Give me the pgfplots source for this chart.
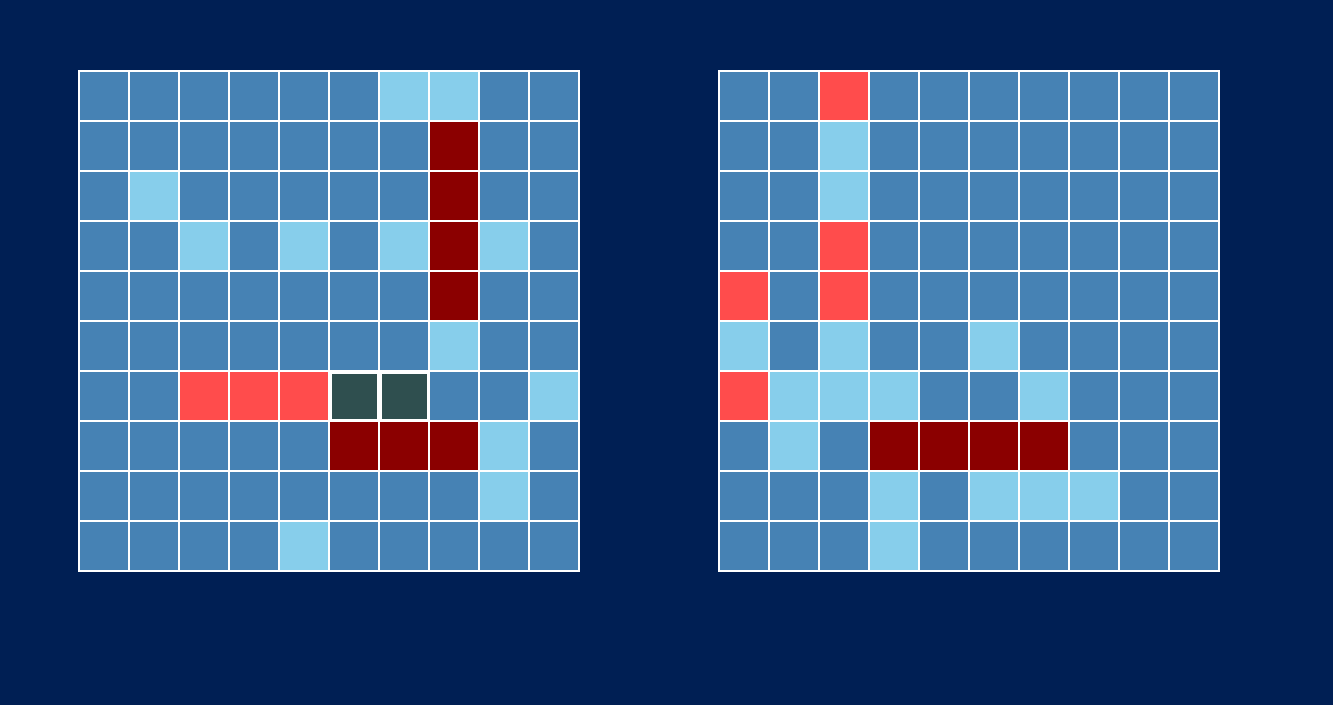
\documentclass[border=0pt]{standalone}
\usepackage{pgfplots}
\usepackage{pgfplotstable}
\pgfplotsset{compat=1.18}
\definecolor{bgnavy}{RGB}{0,31,84}
\definecolor{slatecell}{RGB}{47,79,79}
% meta: 0 steelblue (unknown), 1 skyblue (miss), 2 darkred (sunk), 3 light red (hit), 4 darkslategray
\pgfplotstableread{
x y c
0 0 0
1 0 0
2 0 0
3 0 0
4 0 0
5 0 0
6 0 1
7 0 1
8 0 0
9 0 0
0 1 0
1 1 0
2 1 0
3 1 0
4 1 0
5 1 0
6 1 0
7 1 2
8 1 0
9 1 0
0 2 0
1 2 1
2 2 0
3 2 0
4 2 0
5 2 0
6 2 0
7 2 2
8 2 0
9 2 0
0 3 0
1 3 0
2 3 1
3 3 0
4 3 1
5 3 0
6 3 1
7 3 2
8 3 1
9 3 0
0 4 0
1 4 0
2 4 0
3 4 0
4 4 0
5 4 0
6 4 0
7 4 2
8 4 0
9 4 0
0 5 0
1 5 0
2 5 0
3 5 0
4 5 0
5 5 0
6 5 0
7 5 1
8 5 0
9 5 0
0 6 0
1 6 0
2 6 3
3 6 3
4 6 3
5 6 4
6 6 4
7 6 0
8 6 0
9 6 1
0 7 0
1 7 0
2 7 0
3 7 0
4 7 0
5 7 2
6 7 2
7 7 2
8 7 1
9 7 0
0 8 0
1 8 0
2 8 0
3 8 0
4 8 0
5 8 0
6 8 0
7 8 0
8 8 1
9 8 0
0 9 0
1 9 0
2 9 0
3 9 0
4 9 1
5 9 0
6 9 0
7 9 0
8 9 0
9 9 0
}\leftgrid
\pgfplotstableread{
x y
5 6
6 6
}\leftfocus
\pgfplotstableread{
x y c
0 0 0
1 0 0
2 0 3
3 0 0
4 0 0
5 0 0
6 0 0
7 0 0
8 0 0
9 0 0
0 1 0
1 1 0
2 1 1
3 1 0
4 1 0
5 1 0
6 1 0
7 1 0
8 1 0
9 1 0
0 2 0
1 2 0
2 2 1
3 2 0
4 2 0
5 2 0
6 2 0
7 2 0
8 2 0
9 2 0
0 3 0
1 3 0
2 3 3
3 3 0
4 3 0
5 3 0
6 3 0
7 3 0
8 3 0
9 3 0
0 4 3
1 4 0
2 4 3
3 4 0
4 4 0
5 4 0
6 4 0
7 4 0
8 4 0
9 4 0
0 5 1
1 5 0
2 5 1
3 5 0
4 5 0
5 5 1
6 5 0
7 5 0
8 5 0
9 5 0
0 6 3
1 6 1
2 6 1
3 6 1
4 6 0
5 6 0
6 6 1
7 6 0
8 6 0
9 6 0
0 7 0
1 7 1
2 7 0
3 7 2
4 7 2
5 7 2
6 7 2
7 7 0
8 7 0
9 7 0
0 8 0
1 8 0
2 8 0
3 8 1
4 8 0
5 8 1
6 8 1
7 8 1
8 8 0
9 8 0
0 9 0
1 9 0
2 9 0
3 9 1
4 9 0
5 9 0
6 9 0
7 9 0
8 9 0
9 9 0
}\rightgrid
\pgfplotsset{
  board/.style={
    scale only axis, width=500pt, height=500pt,
    xmin=-0.5, xmax=9.5, ymin=-0.5, ymax=9.5,
    y dir=reverse, hide axis, anchor=south west,
    colormap={battle}{rgb255=(70,130,180) rgb255=(135,206,235) rgb255=(139,0,0) rgb255=(255,76,76) rgb255=(47,79,79)},
    colormap access=direct,
    clip=false,
  },
}
\begin{document}
\begin{tikzpicture}[x=1pt,y=1pt]
\fill[bgnavy] (0,0) rectangle (1333,705);
\begin{axis}[board, at={(79pt,134pt)}]
\addplot[matrix plot*, mesh/cols=10, point meta=explicit, draw=white, line width=2pt] table[meta=c] {\leftgrid};
\addplot[only marks, mark=square*, mark size=24pt, mark options={fill=slatecell, draw=white, line width=3pt}] table {\leftfocus};
\end{axis}
\begin{axis}[board, at={(719pt,134pt)}]
\addplot[matrix plot*, mesh/cols=10, point meta=explicit, draw=white, line width=2pt] table[meta=c] {\rightgrid};
\end{axis}
\end{tikzpicture}
\end{document}
